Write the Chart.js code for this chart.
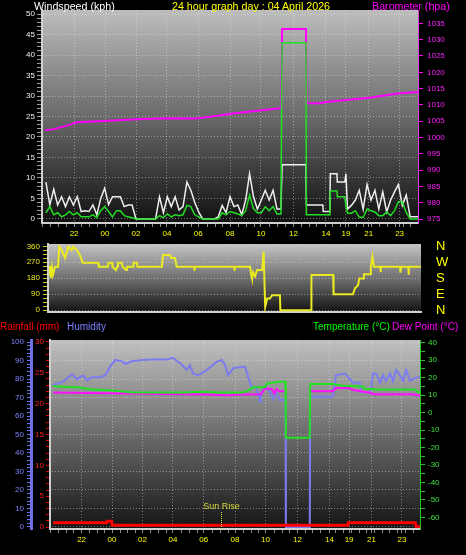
<!DOCTYPE html>
<html>
<head>
<meta charset="utf-8">
<title>24 hour graph</title>
<script src="https://cdn.jsdelivr.net/npm/chart.js@4.4.1/dist/chart.umd.min.js"></script>
<style>
  body { margin: 0; background: #000; }
  #page { position: relative; width: 466px; height: 555px; overflow: hidden; background: #000; font-family: "Liberation Sans", Arial, sans-serif; }
  canvas { position: absolute; left: 0; }
  .cap { position: absolute; font-size: 10.7px; line-height: 12px; white-space: nowrap; }
  .cap.low { font-size: 10px; }
</style>
</head>
<body>
<div id="page">
  <canvas id="windChart" width="466" height="240" style="top:0"></canvas>
  <canvas id="dirChart" width="466" height="80" style="top:240px"></canvas>
  <canvas id="climateChart" width="466" height="235" style="top:320px"></canvas>
  <div class="cap" style="left:34px;top:0;color:#ffffff">Windspeed (kph)</div>
  <div class="cap" style="left:172px;top:0;color:#ffff00">24 hour graph day : 04 April 2026</div>
  <div class="cap" style="left:372px;top:0;color:#ff00ff">Barometer (hpa)</div>
  <div class="cap low" style="left:0;top:321px;color:#ff0000">Rainfall (mm)</div>
  <div class="cap low" style="left:67px;top:321px;color:#8080ff">Humidity</div>
  <div class="cap low" style="left:313px;top:321px;color:#00ff00">Temperature (°C)</div>
  <div class="cap low" style="left:392px;top:321px;color:#ff00ff">Dew Point (°C)</div>
</div>
<script>
// x values are sample slots across the plotted day: 0 = left edge, 96 = right edge
const tickAt = [8.2, 16.1, 24, 31.9, 39.9, 48, 55.9, 64.2, 72.5, 77.6, 83.4, 91.3];
const tickText = ['22', '00', '02', '04', '06', '08', '10', '12', '14', '19', '21', '23'];
const sunriseAt = 44.4;

const windAt = [1, 2, 3, 4, 5, 6, 7, 8, 9, 10, 11, 12, 13, 14, 15, 16, 17, 18, 19, 20,
  21, 22, 23, 24, 25, 26, 27, 28, 29, 30, 31, 32, 33, 34, 35, 36, 37, 38, 39, 40,
  41, 42, 43, 44, 45, 46, 47, 48, 49, 50, 51, 52, 53, 54, 55, 56, 57, 58, 59, 60, 61,
  61.3, 67.4, 67.5, 71.7, 71.8, 73.5, 73.6, 75.3, 75.4, 77.3, 77.6,
  78, 79, 80, 81, 82, 83, 84, 85, 86, 87, 88, 89, 90, 91, 92, 93, 94, 95, 96];
const gustKph = [9, 3.4, 7.2, 3.4, 5.4, 3, 5.4, 3.4, 5.4,
  1.8, 2, 1.8, 3.4, 1, 5, 7.5, 3.5, 5.4, 5.4,
  5.4, 3, 3.4, 3.4, 0, 0, 0, 0, 0, 0,
  5.4, 1.5, 5.4, 3, 5.4, 2.2, 3, 9, 7, 4,
  1.7, 0, 0, 0, 0, 0.5, 3.3, 1.5, 5.4, 3,
  3.4, 1, 4.6, 11, 5.4, 2.4, 4.6, 7, 4.6, 7,
  2.4, 2.4,
  13.2, 13.2, 3.4, 3.4, 1.8, 1.8, 11, 11, 9, 9, 11,
  2.4, 3.3, 4.6, 7, 2.4, 8.4, 4.6, 7, 2.4, 6.6, 1.7, 4.6, 6.6, 8.4, 3.3, 5.8, 0.5, 0.5, 0.5];
const avgKph = [1.5, 3, 1, 1.5, 0.5, 1, 1.8, 1, 1.5,
  0.5, 0.5, 0.5, 1, 0.3, 2, 3, 1.8, 0.5, 2,
  2, 0.8, 0.5, 0.3, 0, 0, 0, 0, 0, 0,
  0.8, 0.3, 1.2, 0.5, 1, 0.8, 1, 3.3, 3, 1,
  0.5, 0, 0, 0, 0, 0, 1.5, 1, 1.8, 1.5,
  1.2, 0.8, 2, 5.8, 2.5, 1.5, 1.5, 3, 2, 3,
  1.2, 1.2,
  43, 43, 1, 1, 1, 1, 6.8, 6.8, 5.4, 5.4, 3,
  1.4, 1.4, 2, 0.4, 0.4, 2.4, 2, 1.7, 0.8, 0.8, 1.7, 0.8, 2, 4.2, 4.2, 1.5, 0, 0, 0];

const baroAt = [0.8, 2.8, 6.8, 8.9, 16, 20.4, 25.5, 32, 39, 43, 46, 48.8, 56, 61.1,
  61.3, 67.4, 67.5, 71, 72.5, 77.6, 83.5, 91.4, 96];
const baroHpa = [1002.3, 1002.5, 1003.8, 1004.7, 1005.1, 1005.4, 1005.7, 1005.9, 1005.8, 1006.4, 1006.9, 1007.4, 1008.4, 1009,
  1033.3, 1033.3, 1010.5, 1010.5, 1010.9, 1011.5, 1012.2, 1013.6, 1014];

const dirAt = [0.26, 0.51, 0.77, 1.03, 1.29, 1.8, 2.57, 2.9, 3.5, 4.4, 5.2, 6.1, 6.5, 7.4, 8.2, 8.9,
  12.9, 13.1, 15.4, 15.6, 16.5, 16.6, 17.5, 17.8, 18, 19, 19.2, 20.1, 20.3, 21.9, 22, 22.9, 23,
  29.3, 29.6, 31.4, 31.7, 32.7, 33.1, 37.6, 37.7, 37.8, 47.9, 48, 48.1,
  52, 52.3, 52.5, 52.8, 53.3, 53.8, 55.1, 55.5, 55.9, 56.4, 57.1, 57.7, 59.7, 59.8,
  67.7, 67.8, 73.4, 73.5, 78.5, 79, 79.8, 80.1, 81.1, 81.3, 82.9, 83.1, 83.5, 83.9,
  85.5, 85.6, 85.7, 90.6, 90.7, 90.9, 92.7, 92.8, 92.9, 96];
const dirDeg = [200, 250, 180, 240, 200, 245, 245, 358, 339, 294, 358, 339, 358, 339, 311, 267,
  267, 245, 245, 267, 267, 245, 226, 245, 267, 267, 245, 226, 245, 245, 267, 267, 245,
  245, 311, 311, 294, 294, 245, 245, 222, 245, 245, 222, 245,
  245, 198, 180, 215, 190, 226, 226, 330, 19, 66, 66, 85, 85, 0,
  0, 198, 198, 90, 90, 124, 141, 179, 179, 202, 202, 245, 301, 245,
  245, 215, 245, 245, 212, 245, 245, 200, 245, 245];
const compassAt = [360, 270, 180, 90, 0];
const compassText = ['N', 'W', 'S', 'E', 'N'];

const humAt = [0.8, 3.4, 5.7, 7, 8.6, 9.6, 10.9, 13, 14.3, 15.6, 16.9, 18.9, 19.5, 21.5, 24.1, 26.7,
  30.4, 31.9, 34.3, 35.5, 36.3, 37.1, 38.4, 40.7, 43.3, 44.6, 45.4, 46.2, 47.5, 50.6, 51.4, 52.2,
  53.5, 54, 54.5, 54.7, 55.8, 57.1, 57.9, 58.6, 59.7, 61.1, 61.2, 67.4, 67.5, 73.4, 74.2, 76.5,
  77.8, 78.6, 80.4, 80.7, 83, 83.3, 83.8, 84.6, 85.6, 86.4, 87.2, 88.2, 89, 89.8, 90.8, 91.6,
  92.4, 93.4, 94.2, 95.5, 96];
const humPct = [76.8, 78.6, 82.5, 79.9, 82, 79.3, 81, 81, 82, 86.7, 90.3, 89.4, 88.1, 89.7, 90.3, 90.6,
  90.6, 91.5, 87.6, 84.9, 87.6, 83, 82, 84.9, 89.4, 90.3, 87.6, 82, 85.8, 86.7, 81.2, 76.2,
  75, 72.3, 67.7, 72, 76, 72.9, 69.2, 72.9, 68.6, 68.6, 0, 0, 70.4, 70.4, 82, 83,
  80, 78, 78, 72.9, 72.9, 75, 83, 83, 78, 82, 79, 83, 79, 84.9, 82, 79,
  84.9, 79, 80, 81, 81];

const tempAt = [0.8, 7, 11.2, 16.3, 21.5, 35, 39, 44, 50, 51.4, 52.7, 55.8, 56.1, 59.2, 61.1,
  61.2, 67.4, 67.5, 73.4, 76, 81.2, 81.6, 83.6, 84, 94.7, 95.5, 96];
const tempC = [15.1, 14.5, 13.2, 12.6, 11.5, 11.5, 12, 11.5, 11.5, 12.6, 14.5, 14.5, 16.4, 17.7, 17.7,
  -14.4, -14.4, 16.4, 16.4, 15.4, 15, 13.5, 13.5, 13.2, 13.2, 11.8, 11.8];

const dewAt = [0.8, 10, 20, 30, 40, 46, 50, 54.7, 55.8, 57.5, 58.2, 58.8, 59.5, 61.1,
  64, 67.5, 73.4, 74.2, 77.5, 79, 83, 84, 94, 96];
const dewC = [11.5, 11.3, 11, 10.6, 10.3, 9.9, 10.3, 10.5, 13.8, 13.5, 11, 13.5, 12.2, 12.2,
  null, 12.2, 12.2, 14.1, 14.1, 12.8, 11.4, 10.5, 10.5, 9.6];

const rainAt = [0.8, 14.7, 14.8, 16, 16.1, 77.3, 77.4, 94.8, 95, 96];
const rainMm = [0.7, 0.7, 0.95, 0.95, 0.3, 0.3, 0.7, 0.7, 0.1, 0.1];

const tickFont = { family: 'Liberation Sans', size: 8 };
const gridDots = 'rgba(235,235,235,0.45)';

function pts(xs, ys) {
    return xs.map((x, i) => ({ x: x, y: ys[i] }));
}
function range(from, to, step) {
    const out = [];
    for (let v = from; v <= to + 1e-9; v += step) out.push(Math.round(v * 100) / 100);
    return out;
}
function fixedTicks(values) {
    return scale => { scale.ticks = values.map(v => ({ value: v })); };
}
// fixed axis sizes, and no label overhang pushing the plot area around
function fitWidth(w) {
    return s => { s.width = w; s.paddingTop = 0; s.paddingBottom = 0; };
}
function fitHeight(h) {
    return s => { s.height = h; s.paddingLeft = 0; s.paddingRight = 0; };
}

const minorAt = range(0.2, 95, 2).filter(v => tickAt.every(t => Math.abs(t - v) > 0.5));
const allTimeTicks = tickAt.concat(minorAt).sort((a, b) => a - b);

function timeAxis(showLabels, height) {
    return {
        type: 'linear', min: 0, max: 96,
        afterBuildTicks: fixedTicks(showLabels ? allTimeTicks : tickAt),
        afterFit: fitHeight(height),
        ticks: {
            display: showLabels, autoSkip: false, maxRotation: 0, color: '#ffff00', font: tickFont, padding: 2,
            callback: v => { const k = tickAt.indexOf(v); return k < 0 ? '' : tickText[k]; }
        },
        grid: {
            display: showLabels,
            color: c => (c.tick && tickAt.includes(c.tick.value)) ? gridDots : 'transparent',
            tickColor: '#8c8c8c', tickLength: 4, drawTicks: showLabels
        },
        border: { color: '#d0d0d0', width: 2, dash: [1, 2] }
    };
}

const plotBack = {
    id: 'plotBack',
    beforeDraw(chart, args, opts) {
        const { ctx, chartArea: a } = chart;
        const g = ctx.createLinearGradient(0, a.top, 0, a.bottom);
        g.addColorStop(0, opts.top);
        g.addColorStop(0.5, opts.mid);
        g.addColorStop(1, opts.bottom);
        ctx.save();
        ctx.fillStyle = g;
        ctx.fillRect(a.left, a.top, a.right - a.left, a.bottom - a.top);
        ctx.restore();
    }
};

const sunRise = {
    id: 'sunRise',
    afterDatasetsDraw(chart) {
        const { ctx, chartArea: a } = chart;
        const x = Math.round(chart.scales.x.getPixelForValue(sunriseAt)) + 0.5;
        ctx.save();
        ctx.strokeStyle = '#e8e830';
        ctx.lineWidth = 1;
        ctx.setLineDash([1, 1]);
        ctx.beginPath();
        ctx.moveTo(x, a.bottom - 17);
        ctx.lineTo(x, a.bottom);
        ctx.stroke();
        ctx.setLineDash([]);
        ctx.fillStyle = '#d8d840';
        ctx.font = '9px "Liberation Sans"';
        ctx.textAlign = 'center';
        ctx.textBaseline = 'middle';
        ctx.fillText('Sun Rise', x, a.bottom - 22);
        ctx.restore();
    }
};

const common = {
    responsive: false,
    animation: false,
    plugins: { legend: { display: false }, tooltip: { enabled: false } },
    elements: { point: { radius: 0 }, line: { tension: 0 } }
};

window.addEventListener('load', () => {
    new Chart(document.getElementById('windChart'), {
        type: 'line',
        plugins: [plotBack],
        data: {
            datasets: [
                { label: 'Average', data: pts(windAt, avgKph), yAxisID: 'yWind', borderColor: '#22dd22', borderWidth: 1.5 },
                { label: 'Gust', data: pts(windAt, gustKph), yAxisID: 'yWind', borderColor: '#eeeeee', borderWidth: 1.5 },
                { label: 'Barometer', data: pts(baroAt, baroHpa), yAxisID: 'yBaro', borderColor: '#ff00ff', borderWidth: 2 }
            ]
        },
        options: {
            ...common,
            layout: { padding: { top: 10, left: 0, right: 0, bottom: 0 } },
            plugins: { ...common.plugins, plotBack: { top: '#bdbdbd', mid: '#6a6a6a', bottom: '#101010' } },
            scales: {
                x: timeAxis(true, 17),
                yWind: {
                    position: 'left', min: -1, max: 51,
                    afterBuildTicks: fixedTicks(range(0, 50, 1)),
                    afterFit: fitWidth(42),
                    ticks: { autoSkip: false, color: '#f0f0f0', font: tickFont, padding: 2, callback: v => v % 5 === 0 ? String(v) : '' },
                    grid: {
                        color: c => (c.tick && c.tick.value % 5 === 0) ? gridDots : 'transparent',
                        tickColor: '#9a9a9a', tickLength: 5
                    },
                    border: { color: '#d0d0d0', width: 2, dash: [1, 2] }
                },
                yBaro: {
                    position: 'right', min: 973.8, max: 1039.1,
                    afterBuildTicks: fixedTicks(range(975, 1035, 5)),
                    afterFit: fitWidth(48),
                    ticks: { autoSkip: false, color: '#ff20ff', font: tickFont, padding: 4, callback: v => String(v) },
                    grid: { drawOnChartArea: false, tickColor: '#ff00ff', tickLength: 5 },
                    border: { color: '#e040e0', width: 1 }
                }
            }
        }
    });

    new Chart(document.getElementById('dirChart'), {
        type: 'line',
        plugins: [plotBack],
        data: {
            datasets: [
                { label: 'Direction', data: pts(dirAt, dirDeg), yAxisID: 'yDir', borderColor: '#eaea20', borderWidth: 2 }
            ]
        },
        options: {
            ...common,
            layout: { padding: { top: 4, left: 0, right: 0, bottom: 0 } },
            plugins: { ...common.plugins, plotBack: { top: '#c4c4c4', mid: '#707070', bottom: '#141414' } },
            scales: {
                x: timeAxis(false, 8),
                yDir: {
                    position: 'left', min: -10, max: 373,
                    afterBuildTicks: fixedTicks(range(0, 360, 22.5)),
                    afterFit: fitWidth(48),
                    ticks: { autoSkip: false, color: '#e8e820', font: tickFont, padding: 3, callback: v => v % 90 === 0 ? String(v) : '' },
                    grid: {
                        color: c => (c.tick && c.tick.value % 90 === 0) ? gridDots : 'transparent',
                        tickColor: '#c8c820', tickLength: 5
                    },
                    border: { color: '#d0d0d0', width: 2, dash: [1, 2] }
                },
                yCompass: {
                    position: 'right', min: -10, max: 373,
                    afterBuildTicks: fixedTicks(compassAt),
                    afterFit: fitWidth(45),
                    ticks: {
                        autoSkip: false, color: '#ffff00', font: { family: 'Liberation Sans', size: 13 }, padding: 15,
                        callback: v => compassText[compassAt.indexOf(v)]
                    },
                    grid: { display: false, drawTicks: false },
                    border: { display: false }
                }
            }
        }
    });

    new Chart(document.getElementById('climateChart'), {
        type: 'line',
        plugins: [plotBack, sunRise],
        data: {
            datasets: [
                { label: 'Rainfall', data: pts(rainAt, rainMm), yAxisID: 'yRain', borderColor: '#ff0000', borderWidth: 3 },
                { label: 'Temperature', data: pts(tempAt, tempC), yAxisID: 'yTemp', borderColor: '#22e022', borderWidth: 2 },
                { label: 'Dew Point', data: pts(dewAt, dewC), yAxisID: 'yTemp', borderColor: '#ff10ff', borderWidth: 2, spanGaps: false },
                { label: 'Humidity', data: pts(humAt, humPct), yAxisID: 'yHum', borderColor: '#7c7cf0', borderWidth: 2 }
            ]
        },
        options: {
            ...common,
            layout: { padding: { top: 20, left: 0, right: 0, bottom: 0 } },
            plugins: { ...common.plugins, plotBack: { top: '#c0c0c0', mid: '#6c6c6c', bottom: '#141414' } },
            scales: {
                x: timeAxis(true, 26),
                yHum: {
                    position: 'left', weight: 1, min: -1.1, max: 101.1,
                    afterBuildTicks: fixedTicks(range(0, 100, 2)),
                    afterFit: fitWidth(31),
                    ticks: { autoSkip: false, color: '#8080ff', font: tickFont, padding: 3, callback: v => v % 10 === 0 ? String(v) : '' },
                    grid: {
                        color: c => (c.tick && c.tick.value % 10 === 0) ? gridDots : 'transparent',
                        tickColor: '#7070e8', tickLength: 4
                    },
                    border: { color: '#7070e8', width: 3, dash: [1, 2] }
                },
                yRain: {
                    position: 'left', weight: 0, min: -0.3, max: 30.3,
                    afterBuildTicks: fixedTicks(range(0, 30, 1)),
                    afterFit: fitWidth(19),
                    ticks: { autoSkip: false, color: '#ff2020', font: tickFont, padding: 2, callback: v => v % 5 === 0 ? String(v) : '' },
                    grid: { drawOnChartArea: false, tickColor: '#e00000', tickLength: 4 },
                    border: { color: '#d0d0d0', width: 2 }
                },
                yTemp: {
                    position: 'right', min: -66.7, max: 41.6,
                    afterBuildTicks: fixedTicks(range(-60, 40, 5)),
                    afterFit: fitWidth(46),
                    ticks: { autoSkip: false, color: '#40e040', font: tickFont, padding: 3, callback: v => v % 10 === 0 ? String(v) : '' },
                    grid: { drawOnChartArea: false, tickColor: '#20c020', tickLength: 5 },
                    border: { color: '#30c030', width: 1 }
                }
            }
        }
    });
});
</script>
</body>
</html>
